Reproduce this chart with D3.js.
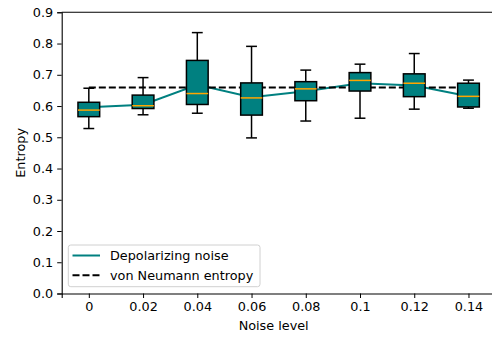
<!DOCTYPE html>
<html><head><meta charset="utf-8">
<script src="https://cdn.jsdelivr.net/npm/d3@7"></script>
<style>body{margin:0;background:#fff}svg{display:block}text{font-family:"DejaVu Sans",sans-serif}</style>
</head><body>
<svg id="c" width="492" height="338"></svg>
<script>
const categories = ["0","0.02","0.04","0.06","0.08","0.1","0.12","0.14"];
const whiskerLow  = [0.528,0.572,0.577,0.498,0.552,0.561,0.590,0.593];
const q1          = [0.566,0.592,0.605,0.571,0.617,0.648,0.630,0.597];
const medians     = [0.587,0.601,0.640,0.626,0.655,0.682,0.673,0.631];
const q3          = [0.612,0.635,0.746,0.674,0.678,0.707,0.703,0.673];
const whiskerHigh = [0.657,0.691,0.835,0.791,0.715,0.734,0.768,0.683];
const meanLine    = [0.596,0.604,0.668,0.628,0.647,0.673,0.666,0.631];
const vonNeumann  = 0.659;
const yTicks = [0,0.1,0.2,0.3,0.4,0.5,0.6,0.7,0.8,0.9];

const svg = d3.select("#c");
const L=61.7, R=495.6, T=12.3, B=293.5;
const x = d3.scaleLinear().domain([0.5,8.5]).range([L,R]);
const y = d3.scaleLinear().domain([0,0.9]).range([B,T]);
const pos = categories.map((c,i)=>i+1);
const bw = 0.4, cw = 0.2;
const fs = 12.8;

// axes
const gx = svg.append("g").attr("transform",`translate(0,${B})`)
  .call(d3.axisBottom(x).tickValues(pos).tickFormat((d,i)=>categories[i]).tickSize(4.5).tickPadding(4));
const gy = svg.append("g").attr("transform",`translate(${L},0)`)
  .call(d3.axisLeft(y).tickValues(yTicks).tickFormat(d3.format(".1f")).tickSize(4.5).tickPadding(4));
[gx,gy].forEach(g=>{
  g.selectAll("text").attr("font-size",fs).attr("font-family","DejaVu Sans").attr("fill","#000");
  g.selectAll("line").attr("stroke","#000").attr("stroke-width",1);
  g.select(".domain").attr("stroke","#000").attr("stroke-width",1.1);
});
svg.append("line").attr("x1",L).attr("x2",R).attr("y1",T).attr("y2",T).attr("stroke","#000").attr("stroke-width",1.1);
svg.append("line").attr("x1",R).attr("x2",R).attr("y1",T).attr("y2",B).attr("stroke","#000").attr("stroke-width",1.1);

// mean line
const line = d3.line().x((d,i)=>x(pos[i])).y(d=>y(d));
svg.append("path").datum(meanLine).attr("d",line).attr("fill","none").attr("stroke","#008080").attr("stroke-width",2);

// von Neumann dashed
svg.append("line").attr("x1",x(pos[0])).attr("x2",x(pos[pos.length-1]))
  .attr("y1",y(vonNeumann)).attr("y2",y(vonNeumann))
  .attr("stroke","#000").attr("stroke-width",2).attr("stroke-dasharray","7,3");

// boxes
const g = svg.append("g");
pos.forEach((p,i)=>{
  const cx=x(p);
  const hw=(x(p+bw/2)-x(p-bw/2))/2, hc=(x(p+cw/2)-x(p-cw/2))/2;
  const ln=(x1,y1,x2,y2,col,w)=>g.append("line").attr("x1",x1).attr("y1",y1).attr("x2",x2).attr("y2",y2).attr("stroke",col||"#000").attr("stroke-width",w||1.5);
  ln(cx,y(whiskerLow[i]),cx,y(q1[i]));
  ln(cx,y(q3[i]),cx,y(whiskerHigh[i]));
  ln(cx-hc,y(whiskerLow[i]),cx+hc,y(whiskerLow[i]));
  ln(cx-hc,y(whiskerHigh[i]),cx+hc,y(whiskerHigh[i]));
  g.append("rect").attr("x",cx-hw).attr("width",2*hw).attr("y",y(q3[i])).attr("height",y(q1[i])-y(q3[i]))
    .attr("fill","#008080").attr("stroke","#000").attr("stroke-width",1.5);
  ln(cx-hw,y(medians[i]),cx+hw,y(medians[i]),"#ffa500",1.5);
});

// labels
svg.append("text").attr("x",(L+R)/2-5).attr("y",329.5).attr("text-anchor","middle").attr("font-size",fs).text("Noise level");
svg.append("text").attr("transform",`translate(24.5,${(T+B)/2}) rotate(-90)`).attr("text-anchor","middle").attr("font-size",fs).text("Entropy");

// legend
const lg = svg.append("g");
lg.append("rect").attr("x",68.3).attr("y",245).attr("width",191.7).attr("height",41.7).attr("rx",2.5)
  .attr("fill","#fff").attr("fill-opacity",0.8).attr("stroke","#d0d0d0").attr("stroke-width",1);
lg.append("line").attr("x1",72.5).attr("x2",100).attr("y1",255.5).attr("y2",255.5).attr("stroke","#008080").attr("stroke-width",2);
lg.append("line").attr("x1",72.5).attr("x2",100).attr("y1",275.3).attr("y2",275.3).attr("stroke","#000").attr("stroke-width",2).attr("stroke-dasharray","7,3");
lg.append("text").attr("x",110).attr("y",255.5).attr("dy","0.35em").attr("font-size",fs).text("Depolarizing noise");
lg.append("text").attr("x",110).attr("y",275.3).attr("dy","0.35em").attr("font-size",fs).text("von Neumann entropy");
</script>
</body></html>
